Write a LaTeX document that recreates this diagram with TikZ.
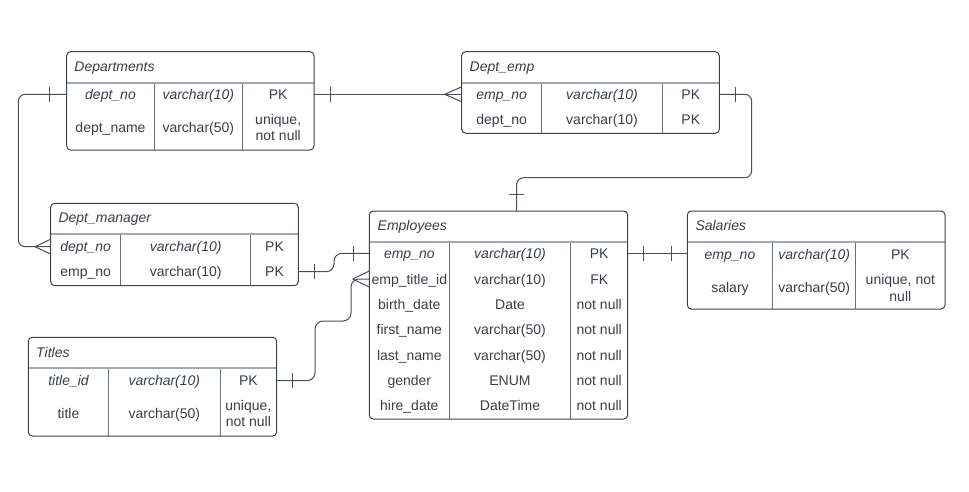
\documentclass[tikz,border=0pt]{standalone}
\usepackage{fontspec}
\setmainfont{Liberation Sans}
\usetikzlibrary{calc}
\definecolor{bord}{HTML}{3D434B}
\definecolor{hline}{HTML}{A3A8AF}
\definecolor{cline}{HTML}{6B7178}
\definecolor{txt}{HTML}{3A3F47}
\definecolor{cn}{HTML}{4A4F57}
\tikzset{
  tbl/.style={draw=bord, line width=1pt, rounded corners=4pt, inner sep=0pt, outer sep=0pt},
  hdr/.style={draw=hline, line width=2pt},
  col/.style={draw=cline, line width=0.9pt},
  cell/.style={text=txt, font=\fontsize{14}{16.6}\selectfont, inner sep=0pt, anchor=base},
  icell/.style={cell, font=\fontsize{14}{16.6}\selectfont\itshape},
  mcell/.style={text=txt, font=\fontsize{14}{16.6}\selectfont, inner sep=0pt, align=center, anchor=center},
  ttl/.style={text=txt, font=\fontsize{14}{16.6}\selectfont\itshape, inner sep=0pt, anchor=base west},
  conn/.style={draw=cn, line width=1pt},
  mk/.style={draw=cn, line width=1pt},
}
% name, left, top, right, bottom, header line y
\newcommand\ertbl[6]{%
  \draw[hdr] (#2,#6) -- (#4,#6);
  \node[tbl, minimum width={(#4-#2)*1pt}, minimum height={(#5-#3)*1pt}] (#1) at ({(#2+#4)/2},{(#3+#5)/2}) {};
}
\newcommand\ercols[4]{% x1, x2, top, bottom
  \draw[col] (#1,#3) -- (#1,#4);
  \draw[col] (#2,#3) -- (#2,#4);
}
\begin{document}
\begin{tikzpicture}[x=1pt,y=-1pt]
\useasboundingbox (0,0) rectangle (969,491);
\fill[white] (0,0) rectangle (969,491);

% ---------- Departments ----------
\ercols{154.3}{242.3}{83.7}{150}
\ertbl{dep}{66.7}{51.7}{314}{150}{82.7}
\node[ttl] (dep-t) at (74.2,71.2) {Departments};
\coordinate (dep-r1) at (0,94.3);
\coordinate (dep-r2) at (0,127.7);
\node[icell] (dep-a1) at (110.5,99.3) {dept\_no};
\node[icell] (dep-b1) at (198.3,99.3) {varchar(10)};
\node[cell]  (dep-c1) at (278.2,99.3) {PK};
\node[cell]  (dep-a2) at (110.5,132.7) {dept\_name};
\node[cell]  (dep-b2) at (198.3,132.7) {varchar(50)};
\node[mcell] (dep-c2) at (278.2,127.5) {unique,\\not null};

% ---------- Dept_emp ----------
\ercols{541.7}{662.3}{83.7}{133.3}
\ertbl{demp}{461.7}{51.7}{719.3}{133.3}{82.7}
\node[ttl] (demp-t) at (469.5,71.2) {Dept\_emp};
\coordinate (demp-r1) at (0,94.3);
\coordinate (demp-r2) at (0,119.3);
\node[icell] (demp-a1) at (501.7,99.3) {emp\_no};
\node[icell] (demp-b1) at (602,99.3) {varchar(10)};
\node[cell]  (demp-c1) at (690.8,99.3) {PK};
\node[cell]  (demp-a2) at (501.7,124.3) {dept\_no};
\node[cell]  (demp-b2) at (602,124.3) {varchar(10)};
\node[cell]  (demp-c2) at (690.8,124.3) {PK};

% ---------- Dept_manager ----------
\ercols{120.7}{250.7}{235.3}{285.7}
\ertbl{dm}{50.7}{203.3}{298.3}{285.7}{234.3}
\node[ttl] (dm-t) at (58.3,222.8) {Dept\_manager};
\coordinate (dm-r1) at (0,246.7);
\coordinate (dm-r2) at (0,271.7);
\node[icell] (dm-a1) at (85.7,251.7) {dept\_no};
\node[icell] (dm-b1) at (185.7,251.7) {varchar(10)};
\node[cell]  (dm-c1) at (274.5,251.7) {PK};
\node[cell]  (dm-a2) at (85.7,276.7) {emp\_no};
\node[cell]  (dm-b2) at (185.7,276.7) {varchar(10)};
\node[cell]  (dm-c2) at (274.5,276.7) {PK};

% ---------- Employees ----------
\ercols{449.3}{570.7}{243.3}{419}
\ertbl{emp}{369.3}{211}{627.7}{419}{242.3}
\node[ttl] (emp-t) at (377.5,230.5) {Employees};
\coordinate (emp-r1) at (0,253.3);
\coordinate (emp-r2) at (0,279);
\node[icell] (emp-a1) at (409.3,258.3) {emp\_no};
\node[icell] (emp-b1) at (510,258.3) {varchar(10)};
\node[cell]  (emp-c1) at (599.2,258.3) {PK};
\node[cell]  (emp-a2) at (409.3,284) {emp\_title\_id};
\node[cell]  (emp-b2) at (510,284) {varchar(10)};
\node[cell]  (emp-c2) at (599.2,284) {FK};
\node[cell]  (emp-a3) at (409.3,309.3) {birth\_date};
\node[cell]  (emp-b3) at (510,309.3) {Date};
\node[cell]  (emp-c3) at (599.2,309.3) {not null};
\node[cell]  (emp-a4) at (409.3,334.7) {first\_name};
\node[cell]  (emp-b4) at (510,334.7) {varchar(50)};
\node[cell]  (emp-c4) at (599.2,334.7) {not null};
\node[cell]  (emp-a5) at (409.3,360) {last\_name};
\node[cell]  (emp-b5) at (510,360) {varchar(50)};
\node[cell]  (emp-c5) at (599.2,360) {not null};
\node[cell]  (emp-a6) at (409.3,385.3) {gender};
\node[cell]  (emp-b6) at (510,385.3) {ENUM};
\node[cell]  (emp-c6) at (599.2,385.3) {not null};
\node[cell]  (emp-a7) at (409.3,410.3) {hire\_date};
\node[cell]  (emp-b7) at (510,410.3) {DateTime};
\node[cell]  (emp-c7) at (599.2,410.3) {not null};

% ---------- Salaries ----------
\ercols{772.7}{855.7}{243.3}{309}
\ertbl{sal}{687.3}{211}{945}{309}{242.3}
\node[ttl] (sal-t) at (695.3,230.5) {Salaries};
\coordinate (sal-r1) at (0,254.3);
\coordinate (sal-r2) at (0,287.7);
\node[icell] (sal-a1) at (730,259.3) {emp\_no};
\node[icell] (sal-b1) at (814.2,259.3) {varchar(10)};
\node[cell]  (sal-c1) at (900.35,259.3) {PK};
\node[cell]  (sal-a2) at (730,292.7) {salary};
\node[cell]  (sal-b2) at (814.2,292.7) {varchar(50)};
\node[mcell] (sal-c2) at (900.35,287.7) {unique, not\\null};

% ---------- Titles ----------
\ercols{108.7}{220}{369.3}{436}
\ertbl{ti}{28.3}{337.3}{276.7}{436}{368.3}
\node[ttl] (ti-t) at (36,357) {Titles};
\coordinate (ti-r1) at (0,380.7);
\coordinate (ti-r2) at (0,413.3);
\node[icell] (ti-a1) at (68.5,385.7) {title\_id};
\node[icell] (ti-b1) at (164.35,385.7) {varchar(10)};
\node[cell]  (ti-c1) at (248.35,385.7) {PK};
\node[cell]  (ti-a2) at (68.5,418.3) {title};
\node[cell]  (ti-b2) at (164.35,418.3) {varchar(50)};
\node[mcell] (ti-c2) at (248.35,413.3) {unique,\\not null};

% ---------- Connectors ----------
% Departments -> Dept_emp
\draw[conn] (dep.east |- dep-r1) -- (demp.west |- demp-r1);
\draw[mk] ($(dep.east |- dep-r1)+(16,-7.5)$) -- ++(0,15);
\draw[mk] ($(demp.west |- demp-r1)+(-17,0)$) -- ++(17,-7.5);
\draw[mk] ($(demp.west |- demp-r1)+(-17,0)$) -- ++(17,7.5);

% Departments -> Dept_manager
\coordinate (c2x) at (18.3,0);
\draw[conn, rounded corners=7pt] (dep.west |- dep-r1) -- (c2x |- dep-r1) -- (c2x |- dm-r1) -- (dm.west |- dm-r1);
\draw[mk] ($(dep.west |- dep-r1)+(-17.4,-7.5)$) -- ++(0,15);
\draw[mk] ($(dm.west |- dm-r1)+(-15.7,0)$) -- ++(15.7,-7.5);
\draw[mk] ($(dm.west |- dm-r1)+(-15.7,0)$) -- ++(15.7,7.5);

% Dept_emp -> Employees
\coordinate (c3) at (751.7,177.7);
\coordinate (c3x) at (516.7,0);
\draw[conn, rounded corners=7pt] (demp.east |- demp-r1) -- (c3 |- demp-r1) -- (c3) -- (c3x |- c3) -- (emp.north -| c3x);
\draw[mk] ($(demp.east |- demp-r1)+(15.7,-7.5)$) -- ++(0,15);
\draw[mk] ($(emp.north -| c3x)+(-7.5,-16.7)$) -- ++(15,0);

% Dept_manager -> Employees
\coordinate (c4x) at (334,0);
\draw[conn, rounded corners=8pt] (dm.east |- dm-r2) -- (c4x |- dm-r2) -- (c4x |- emp-r1) -- (emp.west |- emp-r1);
\draw[mk] ($(dm.east |- dm-r2)+(16,-7.5)$) -- ++(0,15);
\draw[mk] ($(emp.west |- emp-r1)+(-16,-7.5)$) -- ++(0,15);

% Titles -> Employees
\coordinate (c5a) at (315,321);
\coordinate (c5b) at (351,321);
\draw[conn, rounded corners=8pt] (ti.east |- ti-r1) -- (c5a |- ti-r1) -- (c5a) -- (c5b) -- (c5b |- emp-r2) -- (emp.west |- emp-r2);
\draw[mk] ($(ti.east |- ti-r1)+(16,-7.5)$) -- ++(0,15);
\draw[mk] ($(emp.west |- emp-r2)+(-16.6,0)$) -- ++(16.6,-8);
\draw[mk] ($(emp.west |- emp-r2)+(-16.6,0)$) -- ++(16.6,8);

% Employees -> Salaries
\draw[conn] (emp.east |- emp-r1) -- (sal.west |- emp-r1);
\draw[mk] ($(emp.east |- emp-r1)+(15.6,-7.5)$) -- ++(0,15);
\draw[mk] ($(sal.west |- emp-r1)+(-16.3,-7.5)$) -- ++(0,15);
\end{tikzpicture}
\end{document}
